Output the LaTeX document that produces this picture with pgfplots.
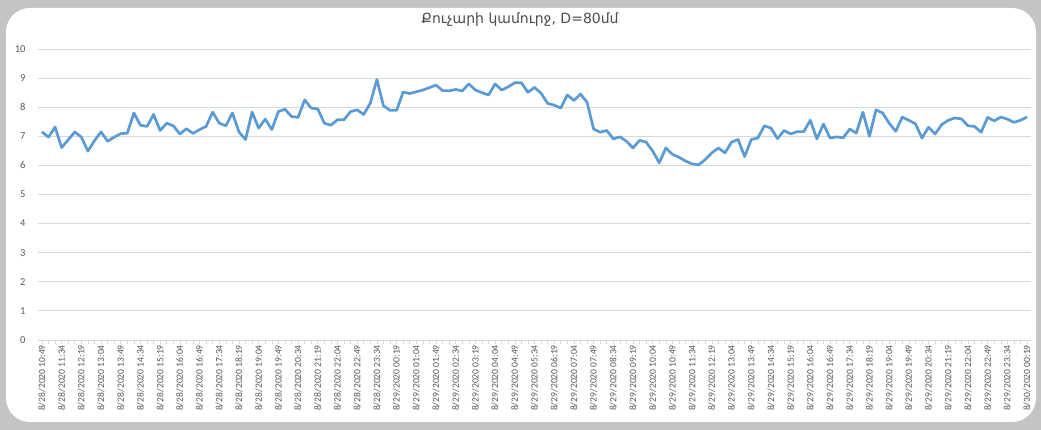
\documentclass[border=0pt]{standalone}
\usepackage{pgfplots}
\pgfplotsset{compat=1.18}
\usepackage{pgfplotstable}
\usepackage{fontspec}
\setmainfont{Carlito}
\newfontfamily\armfont{DejaVu Sans}
\definecolor{lineblue}{RGB}{91,155,213}
\definecolor{gridgray}{RGB}{217,217,217}
\definecolor{labgray}{RGB}{89,89,89}
\definecolor{framegray}{RGB}{196,196,196}
\pgfplotstableread{
v
7.15
6.97
7.32
6.61
6.88
7.15
6.97
6.49
6.85
7.15
6.83
6.97
7.09
7.11
7.80
7.38
7.34
7.75
7.20
7.45
7.36
7.08
7.26
7.10
7.23
7.34
7.83
7.45
7.36
7.80
7.15
6.89
7.83
7.28
7.59
7.23
7.85
7.93
7.68
7.65
8.25
7.97
7.94
7.45
7.38
7.57
7.57
7.85
7.91
7.75
8.14
8.95
8.05
7.89
7.89
8.52
8.47
8.53
8.59
8.67
8.76
8.57
8.56
8.61
8.56
8.80
8.59
8.50
8.42
8.80
8.59
8.70
8.84
8.84
8.51
8.68
8.48
8.13
8.07
7.97
8.42
8.23
8.45
8.17
7.25
7.14
7.20
6.91
6.98
6.83
6.60
6.86
6.80
6.49
6.09
6.60
6.38
6.28
6.15
6.05
6.02
6.20
6.43
6.60
6.43
6.80
6.89
6.30
6.89
6.94
7.36
7.28
6.92
7.20
7.08
7.16
7.16
7.55
6.91
7.42
6.94
6.98
6.95
7.25
7.11
7.83
7.00
7.91
7.80
7.45
7.17
7.66
7.55
7.43
6.94
7.31
7.08
7.40
7.55
7.63
7.60
7.36
7.34
7.14
7.65
7.53
7.66
7.59
7.48
7.55
7.66
}\datatable
\begin{document}
\begin{tikzpicture}
\useasboundingbox (0pt,0pt) rectangle (1041pt,430pt);
\fill[framegray] (0pt,0pt) rectangle (1041pt,430pt);
\fill[white, rounded corners=24pt] (6pt,8pt) rectangle (1036pt,422pt);
\node[font=\armfont\fontsize{14}{16}\selectfont, text=labgray!85!black] at (520pt,410pt) {Քուչարի կամուրջ, D=80մմ};
\begin{axis}[
  at={(38pt,90pt)}, anchor=south west,
  scale only axis, width=993pt, height=291pt,
  xmin=-0.6, xmax=150.6, ymin=0, ymax=10,
  ytick={0,1,...,10},
  ymajorgrids, grid style={gridgray, line width=0.8pt},
  axis y line*=left, y axis line style={draw=none},
  axis x line*=bottom, x axis line style={gridgray, line width=0.8pt},
  major y tick style={draw=none},
  xtick={0,3,...,150},
  minor xtick={0,1,...,150},
  tick align=outside,
  major tick length=4pt, minor tick length=4pt,
  x tick style={gridgray, line width=0.6pt},
  xticklabels={8/28/2020 10:49,8/28/2020 11:34,8/28/2020 12:19,8/28/2020 13:04,8/28/2020 13:49,8/28/2020 14:34,8/28/2020 15:19,8/28/2020 16:04,8/28/2020 16:49,8/28/2020 17:34,8/28/2020 18:19,8/28/2020 19:04,8/28/2020 19:49,8/28/2020 20:34,8/28/2020 21:19,8/28/2020 22:04,8/28/2020 22:49,8/28/2020 23:34,8/29/2020 00:19,8/29/2020 01:04,8/29/2020 01:49,8/29/2020 02:34,8/29/2020 03:19,8/29/2020 04:04,8/29/2020 04:49,8/29/2020 05:34,8/29/2020 06:19,8/29/2020 07:04,8/29/2020 07:49,8/29/2020 08:34,8/29/2020 09:19,8/29/2020 10:04,8/29/2020 10:49,8/29/2020 11:34,8/29/2020 12:19,8/29/2020 13:04,8/29/2020 13:49,8/29/2020 14:34,8/29/2020 15:19,8/29/2020 16:04,8/29/2020 16:49,8/29/2020 17:34,8/29/2020 18:19,8/29/2020 19:04,8/29/2020 19:49,8/29/2020 20:34,8/29/2020 21:19,8/29/2020 22:04,8/29/2020 22:49,8/29/2020 23:34,8/30/2020 00:19},
  x tick label style={rotate=90, anchor=east, font=\fontsize{9.6}{10}\selectfont, text=labgray, inner sep=1pt},
  y tick label style={font=\fontsize{10.5}{12}\selectfont, text=labgray},
  yticklabel style={xshift=-5pt},
  /pgf/number format/assume math mode=true,
  clip=false,
]
\addplot[lineblue, line width=2.7pt, line join=round] table[x expr=\coordindex, y=v] {\datatable};
\end{axis}
\end{tikzpicture}
\end{document}
